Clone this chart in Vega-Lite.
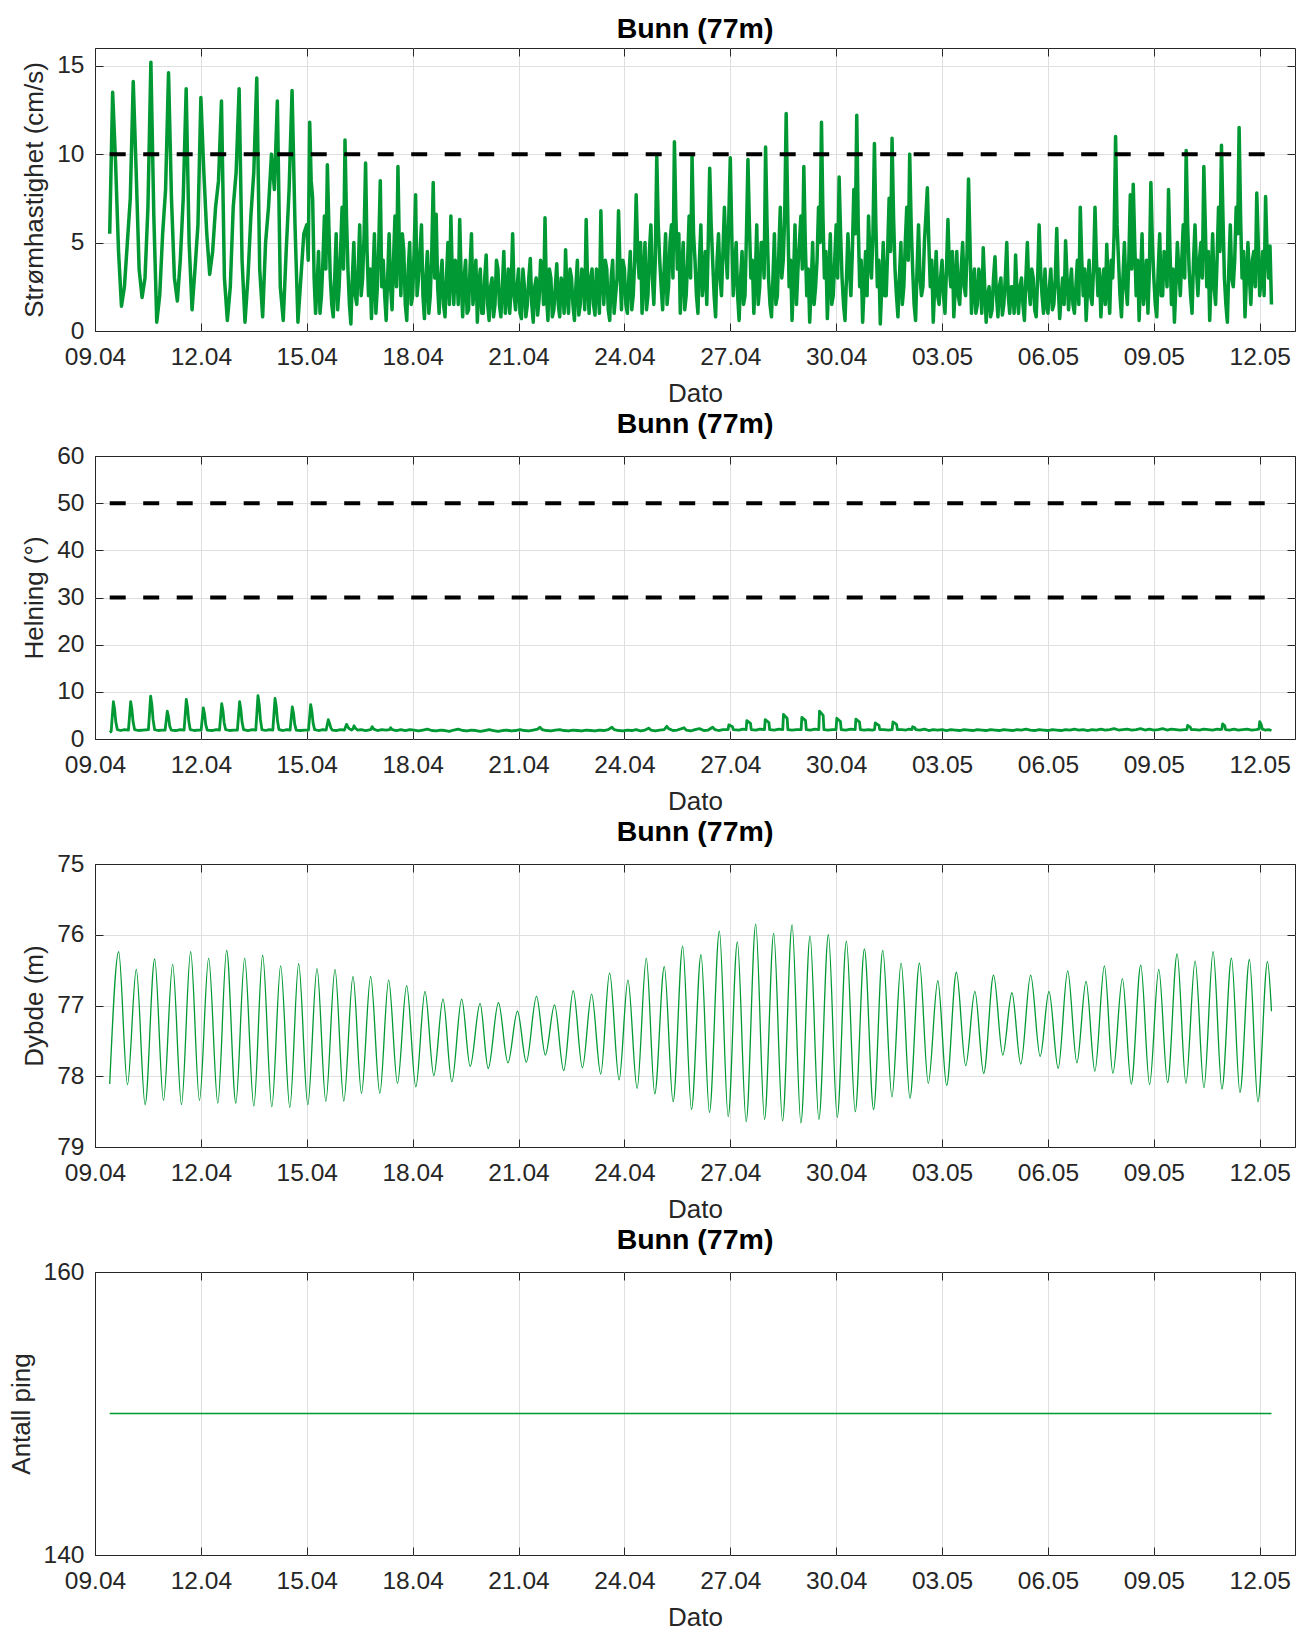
{
  "$schema": "https://vega.github.io/schema/vega-lite/v6.json",
  "background": "white",
  "padding": {"left": 7, "top": 14, "right": 0, "bottom": 0},
  "spacing": 1,
  "config": {
    "font": "Liberation Sans",
    "view": {"stroke": "#262626", "strokeWidth": 1},
    "axis": {
      "domain": false,
      "ticks": true,
      "tickSize": -8,
      "tickColor": "#262626",
      "tickWidth": 1,
      "labelFont": "Liberation Sans",
      "labelFontSize": 24.5,
      "labelColor": "#262626",
      "labelOverlap": false,
      "labelFlush": false,
      "titleFont": "Liberation Sans",
      "titleFontSize": 26,
      "titleFontWeight": "normal",
      "titleColor": "#262626",
      "gridColor": "#dfdfdf",
      "gridWidth": 1
    },
    "axisX": {"labelPadding": 22, "titlePadding": 12.4},
    "axisY": {"labelPadding": 19, "titlePadding": 9},
    "title": {"font": "Liberation Sans", "fontSize": 28.5, "fontWeight": "bold", "color": "#000000", "baseline": "alphabetic", "offset": 4.2, "anchor": "middle"}
  },
  "vconcat": [
    {
      "title": "Bunn (77m)",
      "width": 1200,
      "height": 283,
      "layer": [
        {
          "data": {
            "format": {"parse": {"t": "date:'%d.%m %H:%M'"}},
            "values": [
              {"t":"09.04 10:00","v":5.5},{"t":"09.04 12:00","v":13.5},{"t":"09.04 14:00","v":9.5},{"t":"09.04 16:00","v":4.5},{"t":"09.04 18:00","v":1.4},{"t":"09.04 20:00","v":2.5},{"t":"09.04 22:00","v":5.0},
              {"t":"10.04 00:00","v":7.5},{"t":"10.04 02:00","v":14.1},{"t":"10.04 04:00","v":9.0},{"t":"10.04 06:00","v":3.5},{"t":"10.04 08:00","v":1.9},{"t":"10.04 10:00","v":3.0},{"t":"10.04 12:00","v":7.0},{"t":"10.04 14:00","v":15.2},{"t":"10.04 16:00","v":6.5},{"t":"10.04 18:00","v":0.5},{"t":"10.04 20:00","v":2.0},{"t":"10.04 22:00","v":5.5},
              {"t":"11.04 00:00","v":8.0},{"t":"11.04 02:00","v":14.6},{"t":"11.04 04:00","v":7.5},{"t":"11.04 06:00","v":3.0},{"t":"11.04 08:00","v":1.7},{"t":"11.04 10:00","v":4.0},{"t":"11.04 12:00","v":7.5},{"t":"11.04 14:00","v":13.7},{"t":"11.04 16:00","v":5.0},{"t":"11.04 18:00","v":1.2},{"t":"11.04 20:00","v":3.5},{"t":"11.04 22:00","v":6.0},
              {"t":"12.04 00:00","v":13.2},{"t":"12.04 02:00","v":9.0},{"t":"12.04 04:00","v":5.5},{"t":"12.04 06:00","v":3.2},{"t":"12.04 08:00","v":4.5},{"t":"12.04 10:00","v":7.0},{"t":"12.04 12:00","v":8.5},{"t":"12.04 14:00","v":13.0},{"t":"12.04 16:00","v":3.0},{"t":"12.04 18:00","v":0.6},{"t":"12.04 20:00","v":2.5},{"t":"12.04 22:00","v":7.0},
              {"t":"13.04 00:00","v":9.0},{"t":"13.04 02:00","v":13.7},{"t":"13.04 04:00","v":4.0},{"t":"13.04 06:00","v":0.5},{"t":"13.04 08:00","v":3.0},{"t":"13.04 10:00","v":6.5},{"t":"13.04 12:00","v":9.0},{"t":"13.04 14:00","v":14.3},{"t":"13.04 16:00","v":3.5},{"t":"13.04 18:00","v":0.8},{"t":"13.04 20:00","v":5.0},{"t":"13.04 22:00","v":7.0},
              {"t":"14.04 00:00","v":10.0},{"t":"14.04 02:00","v":8.0},{"t":"14.04 04:00","v":13.0},{"t":"14.04 06:00","v":2.5},{"t":"14.04 08:00","v":0.6},{"t":"14.04 10:00","v":4.5},{"t":"14.04 12:00","v":8.0},{"t":"14.04 14:00","v":13.6},{"t":"14.04 16:00","v":6.0},{"t":"14.04 18:00","v":0.5},{"t":"14.04 20:00","v":3.0},{"t":"14.04 22:00","v":5.5},
              {"t":"15.04 00:00","v":6.0},{"t":"15.04 02:00","v":11.8},{"t":"15.04 04:00","v":7.5},{"t":"15.04 06:00","v":1.0},{"t":"15.04 08:00","v":4.5},{"t":"15.04 10:00","v":2.0},{"t":"15.04 12:00","v":6.5},{"t":"15.04 14:00","v":9.4},{"t":"15.04 16:00","v":3.0},{"t":"15.04 18:00","v":0.8},{"t":"15.04 20:00","v":5.5},{"t":"15.04 22:00","v":2.5},
              {"t":"16.04 00:00","v":7.0},{"t":"16.04 02:00","v":10.8},{"t":"16.04 04:00","v":3.5},{"t":"16.04 06:00","v":0.4},{"t":"16.04 08:00","v":5.0},{"t":"16.04 10:00","v":1.5},{"t":"16.04 12:00","v":6.0},{"t":"16.04 14:00","v":3.0},{"t":"16.04 16:00","v":9.5},{"t":"16.04 18:00","v":2.0},{"t":"16.04 20:00","v":0.7},{"t":"16.04 22:00","v":5.5},
              {"t":"17.04 00:00","v":2.5},{"t":"17.04 02:00","v":8.5},{"t":"17.04 04:00","v":4.0},{"t":"17.04 06:00","v":0.6},{"t":"17.04 08:00","v":5.5},{"t":"17.04 10:00","v":1.2},{"t":"17.04 12:00","v":6.5},{"t":"17.04 14:00","v":9.3},{"t":"17.04 16:00","v":2.0},{"t":"17.04 18:00","v":4.5},{"t":"17.04 20:00","v":0.6},{"t":"17.04 22:00","v":5.0},
              {"t":"18.04 00:00","v":2.0},{"t":"18.04 02:00","v":7.7},{"t":"18.04 04:00","v":3.0},{"t":"18.04 06:00","v":6.0},{"t":"18.04 08:00","v":0.7},{"t":"18.04 10:00","v":4.5},{"t":"18.04 12:00","v":2.0},{"t":"18.04 14:00","v":8.4},{"t":"18.04 16:00","v":6.6},{"t":"18.04 18:00","v":1.0},{"t":"18.04 20:00","v":4.0},{"t":"18.04 22:00","v":0.8},
              {"t":"19.04 00:00","v":5.0},{"t":"19.04 02:00","v":6.5},{"t":"19.04 04:00","v":1.5},{"t":"19.04 06:00","v":3.5},{"t":"19.04 08:00","v":6.3},{"t":"19.04 10:00","v":0.8},{"t":"19.04 12:00","v":4.0},{"t":"19.04 14:00","v":1.2},{"t":"19.04 16:00","v":5.5},{"t":"19.04 18:00","v":2.5},{"t":"19.04 20:00","v":0.5},{"t":"19.04 22:00","v":3.5},
              {"t":"20.04 00:00","v":1.0},{"t":"20.04 02:00","v":4.3},{"t":"20.04 04:00","v":0.6},{"t":"20.04 06:00","v":3.0},{"t":"20.04 08:00","v":1.5},{"t":"20.04 10:00","v":3.5},{"t":"20.04 12:00","v":0.8},{"t":"20.04 14:00","v":4.5},{"t":"20.04 16:00","v":2.0},{"t":"20.04 18:00","v":1.0},{"t":"20.04 20:00","v":5.5},{"t":"20.04 22:00","v":1.2},
              {"t":"21.04 00:00","v":3.5},{"t":"21.04 02:00","v":0.7},{"t":"21.04 04:00","v":2.5},{"t":"21.04 06:00","v":1.5},{"t":"21.04 08:00","v":4.1},{"t":"21.04 10:00","v":0.5},{"t":"21.04 12:00","v":3.0},{"t":"21.04 14:00","v":1.8},{"t":"21.04 16:00","v":3.5},{"t":"21.04 18:00","v":6.4},{"t":"21.04 20:00","v":0.6},{"t":"21.04 22:00","v":3.0},
              {"t":"22.04 00:00","v":1.2},{"t":"22.04 02:00","v":3.8},{"t":"22.04 04:00","v":0.8},{"t":"22.04 06:00","v":2.5},{"t":"22.04 08:00","v":4.6},{"t":"22.04 10:00","v":1.0},{"t":"22.04 12:00","v":3.0},{"t":"22.04 14:00","v":0.6},{"t":"22.04 16:00","v":4.0},{"t":"22.04 18:00","v":1.5},{"t":"22.04 20:00","v":3.0},{"t":"22.04 22:00","v":6.3},
              {"t":"23.04 00:00","v":1.0},{"t":"23.04 02:00","v":3.5},{"t":"23.04 04:00","v":0.9},{"t":"23.04 06:00","v":2.5},{"t":"23.04 08:00","v":6.8},{"t":"23.04 10:00","v":1.5},{"t":"23.04 12:00","v":3.5},{"t":"23.04 14:00","v":0.6},{"t":"23.04 16:00","v":4.0},{"t":"23.04 18:00","v":2.0},{"t":"23.04 20:00","v":6.8},{"t":"23.04 22:00","v":1.2},
              {"t":"24.04 00:00","v":3.5},{"t":"24.04 02:00","v":1.0},{"t":"24.04 04:00","v":4.5},{"t":"24.04 06:00","v":2.0},{"t":"24.04 08:00","v":7.7},{"t":"24.04 10:00","v":3.0},{"t":"24.04 12:00","v":1.0},{"t":"24.04 14:00","v":5.0},{"t":"24.04 16:00","v":2.0},{"t":"24.04 18:00","v":6.0},{"t":"24.04 20:00","v":1.5},{"t":"24.04 22:00","v":9.9},
              {"t":"25.04 00:00","v":4.0},{"t":"25.04 02:00","v":1.2},{"t":"25.04 04:00","v":5.5},{"t":"25.04 06:00","v":2.5},{"t":"25.04 08:00","v":6.0},{"t":"25.04 10:00","v":10.7},{"t":"25.04 12:00","v":3.5},{"t":"25.04 14:00","v":1.0},{"t":"25.04 16:00","v":5.0},{"t":"25.04 18:00","v":2.0},{"t":"25.04 20:00","v":6.5},{"t":"25.04 22:00","v":9.9},
              {"t":"26.04 00:00","v":4.0},{"t":"26.04 02:00","v":1.0},{"t":"26.04 04:00","v":6.0},{"t":"26.04 06:00","v":3.0},{"t":"26.04 08:00","v":1.5},{"t":"26.04 10:00","v":9.2},{"t":"26.04 12:00","v":4.0},{"t":"26.04 14:00","v":0.8},{"t":"26.04 16:00","v":5.5},{"t":"26.04 18:00","v":2.0},{"t":"26.04 20:00","v":7.0},{"t":"26.04 22:00","v":3.0},
              {"t":"27.04 00:00","v":9.8},{"t":"27.04 02:00","v":2.0},{"t":"27.04 04:00","v":5.0},{"t":"27.04 06:00","v":0.6},{"t":"27.04 08:00","v":4.5},{"t":"27.04 10:00","v":2.0},{"t":"27.04 12:00","v":9.7},{"t":"27.04 14:00","v":3.0},{"t":"27.04 16:00","v":1.0},{"t":"27.04 18:00","v":6.0},{"t":"27.04 20:00","v":2.5},{"t":"27.04 22:00","v":5.0},
              {"t":"28.04 00:00","v":10.4},{"t":"28.04 02:00","v":3.0},{"t":"28.04 04:00","v":0.8},{"t":"28.04 06:00","v":5.5},{"t":"28.04 08:00","v":2.0},{"t":"28.04 10:00","v":7.0},{"t":"28.04 12:00","v":4.0},{"t":"28.04 14:00","v":12.3},{"t":"28.04 16:00","v":2.5},{"t":"28.04 18:00","v":0.6},{"t":"28.04 20:00","v":6.0},{"t":"28.04 22:00","v":3.5},
              {"t":"29.04 00:00","v":6.5},{"t":"29.04 02:00","v":9.3},{"t":"29.04 04:00","v":2.0},{"t":"29.04 06:00","v":0.5},{"t":"29.04 08:00","v":5.0},{"t":"29.04 10:00","v":2.5},{"t":"29.04 12:00","v":7.0},{"t":"29.04 14:00","v":11.8},{"t":"29.04 16:00","v":3.0},{"t":"29.04 18:00","v":0.7},{"t":"29.04 20:00","v":5.5},{"t":"29.04 22:00","v":2.0},
              {"t":"30.04 00:00","v":6.0},{"t":"30.04 02:00","v":8.7},{"t":"30.04 04:00","v":3.0},{"t":"30.04 06:00","v":0.6},{"t":"30.04 08:00","v":5.5},{"t":"30.04 10:00","v":2.0},{"t":"30.04 12:00","v":8.0},{"t":"30.04 14:00","v":12.2},{"t":"30.04 16:00","v":2.5},{"t":"30.04 18:00","v":0.5},{"t":"30.04 20:00","v":4.5},{"t":"30.04 22:00","v":6.5},
              {"t":"01.05 00:00","v":3.0},{"t":"01.05 02:00","v":10.6},{"t":"01.05 04:00","v":2.5},{"t":"01.05 06:00","v":0.4},{"t":"01.05 08:00","v":5.0},{"t":"01.05 10:00","v":2.0},{"t":"01.05 12:00","v":7.5},{"t":"01.05 14:00","v":10.9},{"t":"01.05 16:00","v":3.5},{"t":"01.05 18:00","v":0.8},{"t":"01.05 20:00","v":5.0},{"t":"01.05 22:00","v":2.5},
              {"t":"02.05 00:00","v":7.0},{"t":"02.05 02:00","v":10.0},{"t":"02.05 04:00","v":3.5},{"t":"02.05 06:00","v":0.6},{"t":"02.05 08:00","v":6.0},{"t":"02.05 10:00","v":2.0},{"t":"02.05 12:00","v":5.0},{"t":"02.05 14:00","v":8.1},{"t":"02.05 16:00","v":2.5},{"t":"02.05 18:00","v":0.5},{"t":"02.05 20:00","v":4.5},{"t":"02.05 22:00","v":1.5},
              {"t":"03.05 00:00","v":4.0},{"t":"03.05 02:00","v":1.0},{"t":"03.05 04:00","v":6.3},{"t":"03.05 06:00","v":2.5},{"t":"03.05 08:00","v":0.8},{"t":"03.05 10:00","v":4.5},{"t":"03.05 12:00","v":1.5},{"t":"03.05 14:00","v":5.0},{"t":"03.05 16:00","v":2.0},{"t":"03.05 18:00","v":8.6},{"t":"03.05 20:00","v":1.0},{"t":"03.05 22:00","v":3.5},
              {"t":"04.05 00:00","v":1.5},{"t":"04.05 02:00","v":3.0},{"t":"04.05 04:00","v":4.7},{"t":"04.05 06:00","v":0.5},{"t":"04.05 08:00","v":2.5},{"t":"04.05 10:00","v":1.2},{"t":"04.05 12:00","v":4.2},{"t":"04.05 14:00","v":0.8},{"t":"04.05 16:00","v":3.0},{"t":"04.05 18:00","v":1.5},{"t":"04.05 20:00","v":5.0},{"t":"04.05 22:00","v":1.0},
              {"t":"05.05 00:00","v":2.5},{"t":"05.05 02:00","v":4.3},{"t":"05.05 04:00","v":1.0},{"t":"05.05 06:00","v":3.0},{"t":"05.05 08:00","v":0.6},{"t":"05.05 10:00","v":5.0},{"t":"05.05 12:00","v":1.5},{"t":"05.05 14:00","v":3.0},{"t":"05.05 16:00","v":0.8},{"t":"05.05 18:00","v":6.0},{"t":"05.05 20:00","v":2.0},{"t":"05.05 22:00","v":3.5},
              {"t":"06.05 00:00","v":1.0},{"t":"06.05 02:00","v":3.5},{"t":"06.05 04:00","v":1.5},{"t":"06.05 06:00","v":5.8},{"t":"06.05 08:00","v":0.7},{"t":"06.05 10:00","v":3.0},{"t":"06.05 12:00","v":5.1},{"t":"06.05 14:00","v":1.2},{"t":"06.05 16:00","v":3.5},{"t":"06.05 18:00","v":1.0},{"t":"06.05 20:00","v":4.0},{"t":"06.05 22:00","v":7.0},
              {"t":"07.05 00:00","v":2.0},{"t":"07.05 02:00","v":0.6},{"t":"07.05 04:00","v":4.0},{"t":"07.05 06:00","v":1.5},{"t":"07.05 08:00","v":7.0},{"t":"07.05 10:00","v":2.0},{"t":"07.05 12:00","v":0.8},{"t":"07.05 14:00","v":3.5},{"t":"07.05 16:00","v":4.9},{"t":"07.05 18:00","v":1.0},{"t":"07.05 20:00","v":3.0},{"t":"07.05 22:00","v":11.0},
              {"t":"08.05 00:00","v":4.0},{"t":"08.05 02:00","v":0.8},{"t":"08.05 04:00","v":5.0},{"t":"08.05 06:00","v":1.5},{"t":"08.05 08:00","v":7.7},{"t":"08.05 10:00","v":8.3},{"t":"08.05 12:00","v":2.0},{"t":"08.05 14:00","v":0.6},{"t":"08.05 16:00","v":5.5},{"t":"08.05 18:00","v":2.5},{"t":"08.05 20:00","v":1.0},{"t":"08.05 22:00","v":8.4},
              {"t":"09.05 00:00","v":3.0},{"t":"09.05 02:00","v":0.8},{"t":"09.05 04:00","v":5.5},{"t":"09.05 06:00","v":2.0},{"t":"09.05 08:00","v":4.0},{"t":"09.05 10:00","v":8.0},{"t":"09.05 12:00","v":1.5},{"t":"09.05 14:00","v":0.5},{"t":"09.05 16:00","v":5.0},{"t":"09.05 18:00","v":2.0},{"t":"09.05 20:00","v":6.0},{"t":"09.05 22:00","v":10.2},
              {"t":"10.05 00:00","v":3.5},{"t":"10.05 02:00","v":1.0},{"t":"10.05 04:00","v":6.0},{"t":"10.05 06:00","v":2.0},{"t":"10.05 08:00","v":5.0},{"t":"10.05 10:00","v":9.3},{"t":"10.05 12:00","v":2.5},{"t":"10.05 14:00","v":0.6},{"t":"10.05 16:00","v":5.5},{"t":"10.05 18:00","v":1.5},{"t":"10.05 20:00","v":7.0},{"t":"10.05 22:00","v":10.5},
              {"t":"11.05 00:00","v":3.0},{"t":"11.05 02:00","v":0.5},{"t":"11.05 04:00","v":6.0},{"t":"11.05 06:00","v":2.5},{"t":"11.05 08:00","v":7.0},{"t":"11.05 10:00","v":11.5},{"t":"11.05 12:00","v":3.0},{"t":"11.05 14:00","v":0.8},{"t":"11.05 16:00","v":5.0},{"t":"11.05 18:00","v":1.5},{"t":"11.05 20:00","v":4.5},{"t":"11.05 22:00","v":7.8},
              {"t":"12.05 00:00","v":2.0},{"t":"12.05 02:00","v":4.5},{"t":"12.05 04:00","v":7.6},{"t":"12.05 06:00","v":3.0},{"t":"12.05 08:00","v":1.5},
              {"t":"15.04 01:00","v":4.0},{"t":"15.04 03:00","v":8.5},{"t":"15.04 05:00","v":3.0},{"t":"15.04 07:00","v":2.5},{"t":"15.04 09:00","v":1.0},{"t":"15.04 11:00","v":4.0},{"t":"15.04 13:00","v":3.5},{"t":"15.04 15:00","v":6.0},{"t":"15.04 17:00","v":1.5},{"t":"15.04 19:00","v":3.0},{"t":"15.04 21:00","v":1.2},{"t":"15.04 23:00","v":4.5},
              {"t":"16.04 01:00","v":3.5},{"t":"16.04 03:00","v":6.5},{"t":"16.04 05:00","v":1.5},{"t":"16.04 07:00","v":3.0},{"t":"16.04 09:00","v":2.0},{"t":"16.04 11:00","v":3.5},{"t":"16.04 13:00","v":2.0},{"t":"16.04 15:00","v":5.5},{"t":"16.04 17:00","v":4.5},{"t":"16.04 19:00","v":3.5},{"t":"16.04 21:00","v":3.0},{"t":"16.04 23:00","v":1.0},
              {"t":"17.04 01:00","v":5.0},{"t":"17.04 03:00","v":2.5},{"t":"17.04 05:00","v":2.0},{"t":"17.04 07:00","v":3.0},{"t":"17.04 09:00","v":2.5},{"t":"17.04 11:00","v":4.0},{"t":"17.04 13:00","v":2.5},{"t":"17.04 15:00","v":4.5},{"t":"17.04 17:00","v":5.5},{"t":"17.04 19:00","v":1.5},{"t":"17.04 21:00","v":3.5},{"t":"17.04 23:00","v":1.5},
              {"t":"18.04 01:00","v":4.5},{"t":"18.04 03:00","v":2.0},{"t":"18.04 05:00","v":4.5},{"t":"18.04 07:00","v":2.0},{"t":"18.04 09:00","v":3.0},{"t":"18.04 11:00","v":1.0},{"t":"18.04 13:00","v":4.5},{"t":"18.04 15:00","v":3.0},{"t":"18.04 17:00","v":2.5},{"t":"18.04 19:00","v":3.0},{"t":"18.04 21:00","v":1.5},{"t":"18.04 23:00","v":3.0},
              {"t":"19.04 01:00","v":1.5},{"t":"19.04 03:00","v":3.0},{"t":"19.04 05:00","v":4.0},{"t":"19.04 07:00","v":1.5},{"t":"19.04 09:00","v":3.0},{"t":"19.04 11:00","v":3.0},{"t":"19.04 13:00","v":1.0},{"t":"19.04 15:00","v":3.5},{"t":"19.04 17:00","v":1.5},{"t":"19.04 19:00","v":4.0},{"t":"19.04 21:00","v":2.5},{"t":"19.04 23:00","v":1.0},
              {"t":"20.04 01:00","v":3.0},{"t":"20.04 03:00","v":1.5},{"t":"20.04 05:00","v":2.5},{"t":"20.04 07:00","v":0.8},{"t":"20.04 09:00","v":4.0},{"t":"20.04 11:00","v":1.5},{"t":"20.04 13:00","v":2.5},{"t":"20.04 15:00","v":1.0},{"t":"20.04 17:00","v":3.5},{"t":"20.04 19:00","v":2.5},{"t":"20.04 21:00","v":2.0},{"t":"20.04 23:00","v":2.5},
              {"t":"21.04 01:00","v":1.0},{"t":"21.04 03:00","v":3.5},{"t":"21.04 05:00","v":0.8},{"t":"21.04 07:00","v":3.0},{"t":"21.04 09:00","v":1.5},{"t":"21.04 11:00","v":2.5},{"t":"21.04 13:00","v":0.9},{"t":"21.04 15:00","v":4.0},{"t":"21.04 17:00","v":1.5},{"t":"21.04 19:00","v":2.0},{"t":"21.04 21:00","v":3.5},{"t":"21.04 23:00","v":0.8},
              {"t":"22.04 01:00","v":2.5},{"t":"22.04 03:00","v":1.5},{"t":"22.04 05:00","v":3.0},{"t":"22.04 07:00","v":1.0},{"t":"22.04 09:00","v":2.0},{"t":"22.04 11:00","v":3.5},{"t":"22.04 13:00","v":1.5},{"t":"22.04 15:00","v":2.5},{"t":"22.04 17:00","v":0.9},{"t":"22.04 19:00","v":3.5},{"t":"22.04 21:00","v":1.2},{"t":"22.04 23:00","v":2.5},
              {"t":"23.04 01:00","v":3.0},{"t":"23.04 03:00","v":1.5},{"t":"23.04 05:00","v":3.5},{"t":"23.04 07:00","v":1.0},{"t":"23.04 09:00","v":3.0},{"t":"23.04 11:00","v":4.0},{"t":"23.04 13:00","v":1.2},{"t":"23.04 15:00","v":3.0},{"t":"23.04 17:00","v":1.0},{"t":"23.04 19:00","v":3.0},{"t":"23.04 21:00","v":3.5},{"t":"23.04 23:00","v":4.0},
              {"t":"24.04 01:00","v":1.5},{"t":"24.04 03:00","v":3.0},{"t":"24.04 05:00","v":1.2},{"t":"24.04 07:00","v":4.0},{"t":"24.04 09:00","v":4.5},{"t":"24.04 11:00","v":5.0},{"t":"24.04 13:00","v":3.0},{"t":"24.04 15:00","v":1.2},{"t":"24.04 17:00","v":4.5},{"t":"24.04 19:00","v":3.0},{"t":"24.04 21:00","v":4.0},{"t":"24.04 23:00","v":6.0},
              {"t":"25.04 01:00","v":2.5},{"t":"25.04 03:00","v":3.5},{"t":"25.04 05:00","v":1.5},{"t":"25.04 07:00","v":5.0},{"t":"25.04 09:00","v":3.0},{"t":"25.04 11:00","v":6.5},{"t":"25.04 13:00","v":5.5},{"t":"25.04 15:00","v":3.5},{"t":"25.04 17:00","v":1.2},{"t":"25.04 19:00","v":4.0},{"t":"25.04 21:00","v":3.0},{"t":"25.04 23:00","v":5.5},
              {"t":"26.04 01:00","v":2.0},{"t":"26.04 03:00","v":4.0},{"t":"26.04 05:00","v":2.0},{"t":"26.04 07:00","v":4.5},{"t":"26.04 09:00","v":5.0},{"t":"26.04 11:00","v":6.0},{"t":"26.04 13:00","v":2.0},{"t":"26.04 15:00","v":4.0},{"t":"26.04 17:00","v":3.0},{"t":"26.04 19:00","v":4.5},{"t":"26.04 21:00","v":4.5},{"t":"26.04 23:00","v":6.5},
              {"t":"27.04 01:00","v":5.5},{"t":"27.04 03:00","v":3.5},{"t":"27.04 05:00","v":2.0},{"t":"27.04 07:00","v":3.0},{"t":"27.04 09:00","v":1.5},{"t":"27.04 11:00","v":5.5},{"t":"27.04 13:00","v":6.0},{"t":"27.04 15:00","v":4.0},{"t":"27.04 17:00","v":3.0},{"t":"27.04 19:00","v":1.5},{"t":"27.04 21:00","v":5.0},{"t":"27.04 23:00","v":3.0},
              {"t":"28.04 01:00","v":6.0},{"t":"28.04 03:00","v":1.5},{"t":"28.04 05:00","v":3.0},{"t":"28.04 07:00","v":1.5},{"t":"28.04 09:00","v":4.5},{"t":"28.04 11:00","v":3.0},{"t":"28.04 13:00","v":6.5},{"t":"28.04 15:00","v":7.0},{"t":"28.04 17:00","v":4.0},{"t":"28.04 19:00","v":3.0},{"t":"28.04 21:00","v":1.5},{"t":"28.04 23:00","v":5.0},
              {"t":"29.04 01:00","v":3.5},{"t":"29.04 03:00","v":5.0},{"t":"29.04 05:00","v":3.5},{"t":"29.04 07:00","v":2.5},{"t":"29.04 09:00","v":1.5},{"t":"29.04 11:00","v":4.0},{"t":"29.04 13:00","v":5.0},{"t":"29.04 15:00","v":6.5},{"t":"29.04 17:00","v":4.5},{"t":"29.04 19:00","v":3.0},{"t":"29.04 21:00","v":1.5},{"t":"29.04 23:00","v":4.0},
              {"t":"30.04 01:00","v":3.0},{"t":"30.04 03:00","v":5.5},{"t":"30.04 05:00","v":1.5},{"t":"30.04 07:00","v":3.0},{"t":"30.04 09:00","v":3.5},{"t":"30.04 11:00","v":4.5},{"t":"30.04 13:00","v":5.5},{"t":"30.04 15:00","v":6.0},{"t":"30.04 17:00","v":4.0},{"t":"30.04 19:00","v":2.5},{"t":"30.04 21:00","v":2.0},{"t":"30.04 23:00","v":4.0},
              {"t":"01.05 01:00","v":5.5},{"t":"01.05 03:00","v":6.0},{"t":"01.05 05:00","v":4.0},{"t":"01.05 07:00","v":2.5},{"t":"01.05 09:00","v":2.0},{"t":"01.05 11:00","v":4.5},{"t":"01.05 13:00","v":4.5},{"t":"01.05 15:00","v":6.5},{"t":"01.05 17:00","v":2.0},{"t":"01.05 19:00","v":3.0},{"t":"01.05 21:00","v":1.5},{"t":"01.05 23:00","v":5.0},
              {"t":"02.05 01:00","v":4.0},{"t":"02.05 03:00","v":6.0},{"t":"02.05 05:00","v":1.5},{"t":"02.05 07:00","v":3.5},{"t":"02.05 09:00","v":3.0},{"t":"02.05 11:00","v":2.5},{"t":"02.05 13:00","v":6.5},{"t":"02.05 15:00","v":5.0},{"t":"02.05 17:00","v":4.0},{"t":"02.05 19:00","v":2.5},{"t":"02.05 21:00","v":2.0},{"t":"02.05 23:00","v":3.0},
              {"t":"03.05 01:00","v":2.0},{"t":"03.05 03:00","v":3.5},{"t":"03.05 05:00","v":3.5},{"t":"03.05 07:00","v":4.5},{"t":"03.05 09:00","v":2.5},{"t":"03.05 11:00","v":2.0},{"t":"03.05 13:00","v":3.5},{"t":"03.05 15:00","v":2.5},{"t":"03.05 17:00","v":4.5},{"t":"03.05 19:00","v":5.0},{"t":"03.05 21:00","v":2.5},{"t":"03.05 23:00","v":1.0},
              {"t":"04.05 01:00","v":3.5},{"t":"04.05 03:00","v":1.0},{"t":"04.05 05:00","v":2.5},{"t":"04.05 07:00","v":2.0},{"t":"04.05 09:00","v":0.8},{"t":"04.05 11:00","v":3.0},{"t":"04.05 13:00","v":2.0},{"t":"04.05 15:00","v":2.5},{"t":"04.05 17:00","v":0.9},{"t":"04.05 19:00","v":3.0},{"t":"04.05 21:00","v":2.0},{"t":"04.05 23:00","v":2.5},
              {"t":"05.05 01:00","v":1.0},{"t":"05.05 03:00","v":2.0},{"t":"05.05 05:00","v":2.5},{"t":"05.05 07:00","v":1.5},{"t":"05.05 09:00","v":3.0},{"t":"05.05 11:00","v":2.5},{"t":"05.05 13:00","v":3.5},{"t":"05.05 15:00","v":1.2},{"t":"05.05 17:00","v":3.0},{"t":"05.05 19:00","v":3.5},{"t":"05.05 21:00","v":1.0},{"t":"05.05 23:00","v":1.5},
              {"t":"06.05 01:00","v":2.5},{"t":"06.05 03:00","v":1.2},{"t":"06.05 05:00","v":3.0},{"t":"06.05 07:00","v":2.5},{"t":"06.05 09:00","v":2.0},{"t":"06.05 11:00","v":1.5},{"t":"06.05 13:00","v":3.0},{"t":"06.05 15:00","v":2.5},{"t":"06.05 17:00","v":1.5},{"t":"06.05 19:00","v":2.5},{"t":"06.05 21:00","v":1.5},{"t":"06.05 23:00","v":4.0},
              {"t":"07.05 01:00","v":3.5},{"t":"07.05 03:00","v":2.5},{"t":"07.05 05:00","v":2.0},{"t":"07.05 07:00","v":3.5},{"t":"07.05 09:00","v":4.0},{"t":"07.05 11:00","v":3.5},{"t":"07.05 13:00","v":2.5},{"t":"07.05 15:00","v":1.5},{"t":"07.05 17:00","v":2.5},{"t":"07.05 19:00","v":4.0},{"t":"07.05 21:00","v":5.5},{"t":"07.05 23:00","v":6.0},
              {"t":"08.05 01:00","v":2.0},{"t":"08.05 03:00","v":3.0},{"t":"08.05 05:00","v":2.5},{"t":"08.05 07:00","v":4.0},{"t":"08.05 09:00","v":3.5},{"t":"08.05 11:00","v":5.0},{"t":"08.05 13:00","v":4.0},{"t":"08.05 15:00","v":3.0},{"t":"08.05 17:00","v":1.5},{"t":"08.05 19:00","v":4.0},{"t":"08.05 21:00","v":3.5},{"t":"08.05 23:00","v":5.0},
              {"t":"09.05 01:00","v":1.5},{"t":"09.05 03:00","v":3.5},{"t":"09.05 05:00","v":2.0},{"t":"09.05 07:00","v":4.5},{"t":"09.05 09:00","v":2.5},{"t":"09.05 11:00","v":4.5},{"t":"09.05 13:00","v":3.5},{"t":"09.05 15:00","v":2.5},{"t":"09.05 17:00","v":3.5},{"t":"09.05 19:00","v":4.0},{"t":"09.05 21:00","v":3.0},{"t":"09.05 23:00","v":6.0},
              {"t":"10.05 01:00","v":2.0},{"t":"10.05 03:00","v":4.0},{"t":"10.05 05:00","v":3.5},{"t":"10.05 07:00","v":4.0},{"t":"10.05 09:00","v":3.0},{"t":"10.05 11:00","v":6.0},{"t":"10.05 13:00","v":4.5},{"t":"10.05 15:00","v":3.0},{"t":"10.05 17:00","v":2.5},{"t":"10.05 19:00","v":4.0},{"t":"10.05 21:00","v":4.5},{"t":"10.05 23:00","v":6.5},
              {"t":"11.05 01:00","v":1.5},{"t":"11.05 03:00","v":3.5},{"t":"11.05 05:00","v":3.0},{"t":"11.05 07:00","v":4.0},{"t":"11.05 09:00","v":5.5},{"t":"11.05 11:00","v":6.5},{"t":"11.05 13:00","v":4.5},{"t":"11.05 15:00","v":3.0},{"t":"11.05 17:00","v":3.0},{"t":"11.05 19:00","v":4.0},{"t":"11.05 21:00","v":2.5},{"t":"11.05 23:00","v":5.0},
              {"t":"12.05 01:00","v":3.0},{"t":"12.05 03:00","v":2.0},{"t":"12.05 05:00","v":4.5},{"t":"12.05 07:00","v":4.8}
            ]
          },
          "mark": {"type": "line", "color": "#009933", "strokeWidth": 3.5, "strokeJoin": "round"},
          "encoding": {
            "x": {
              "field": "t", "type": "temporal", "title": "Dato",
              "scale": {"domain": [{"year": 1900, "month": 4, "date": 9}, {"year": 1900, "month": 5, "date": 13}], "nice": false},
              "axis": {
                "format": "%d.%m",
                "values": [{"year":1900,"month":4,"date":9},{"year":1900,"month":4,"date":12},{"year":1900,"month":4,"date":15},{"year":1900,"month":4,"date":18},{"year":1900,"month":4,"date":21},{"year":1900,"month":4,"date":24},{"year":1900,"month":4,"date":27},{"year":1900,"month":4,"date":30},{"year":1900,"month":5,"date":3},{"year":1900,"month":5,"date":6},{"year":1900,"month":5,"date":9},{"year":1900,"month":5,"date":12}],
                "gridOpacity": {"condition": {"test": "datum.value < datetime(1900, 3, 9, 12)", "value": 0}, "value": 1}
              }
            },
            "y": {
              "field": "v", "type": "quantitative", "title": "Strømhastighet (cm/s)",
              "scale": {"domain": [0, 16], "nice": false},
              "axis": {"values": [0, 5, 10, 15], "gridOpacity": {"condition": {"test": "datum.value == 0", "value": 0}, "value": 1}}
            }
          }
        },
        {
          "data": {
            "format": {"parse": {"t0": "date:'%d.%m %H:%M'", "t1": "date:'%d.%m %H:%M'"}},
            "values": [{"t0": "09.04 10:00", "t1": "12.05 08:00", "grense": 10}]
          },
          "mark": {"type": "rule", "color": "#000000", "strokeWidth": 4, "strokeDash": [16, 17.5]},
          "encoding": {
            "x": {
              "field": "t0", "type": "temporal",
              "scale": {"domain": [{"year": 1900, "month": 4, "date": 9}, {"year": 1900, "month": 5, "date": 13}], "nice": false},
              "axis": {"orient": "top", "labels": false, "grid": false, "title": null,
                "values": [{"year":1900,"month":4,"date":9},{"year":1900,"month":4,"date":12},{"year":1900,"month":4,"date":15},{"year":1900,"month":4,"date":18},{"year":1900,"month":4,"date":21},{"year":1900,"month":4,"date":24},{"year":1900,"month":4,"date":27},{"year":1900,"month":4,"date":30},{"year":1900,"month":5,"date":3},{"year":1900,"month":5,"date":6},{"year":1900,"month":5,"date":9},{"year":1900,"month":5,"date":12}]}
            },
            "x2": {"field": "t1"},
            "y": {"field": "grense", "type": "quantitative", "axis": {"orient": "right", "labels": false, "grid": false, "title": null, "values": [0, 5, 10, 15]}}
          }
        }
      ],
      "resolve": {"axis": {"x": "independent", "y": "independent"}}
    },
    {
      "title": "Bunn (77m)",
      "width": 1200,
      "height": 283,
      "layer": [
        {
          "data": {
            "format": {"parse": {"t": "date:'%d.%m %H:%M'"}},
            "values": [
              {"t":"09.04 10:00","v":1.4},{"t":"09.04 11:00","v":1.6},{"t":"09.04 12:30","v":7.9},{"t":"09.04 13:20","v":6.3},{"t":"09.04 14:10","v":3.6},{"t":"09.04 15:10","v":2.0},{"t":"09.04 17:30","v":1.8},{"t":"09.04 20:00","v":2.0},{"t":"09.04 22:45","v":1.9},
              {"t":"10.04 00:15","v":7.9},{"t":"10.04 01:05","v":6.3},{"t":"10.04 01:55","v":3.6},{"t":"10.04 02:55","v":2.0},{"t":"10.04 05:30","v":1.8},{"t":"10.04 08:30","v":1.9},{"t":"10.04 12:20","v":2.0},{"t":"10.04 13:50","v":9.1},{"t":"10.04 14:40","v":7.3},{"t":"10.04 15:30","v":4.1},{"t":"10.04 16:30","v":2.0},{"t":"10.04 19:00","v":1.8},{"t":"10.04 21:30","v":1.9},{"t":"10.04 23:40","v":1.9},
              {"t":"11.04 01:10","v":5.9},{"t":"11.04 02:00","v":4.7},{"t":"11.04 02:50","v":2.7},{"t":"11.04 03:50","v":1.9},{"t":"11.04 07:00","v":1.8},{"t":"11.04 10:00","v":2.0},{"t":"11.04 12:35","v":1.9},{"t":"11.04 14:05","v":8.4},{"t":"11.04 14:55","v":6.7},{"t":"11.04 15:45","v":3.8},{"t":"11.04 16:45","v":2.0},{"t":"11.04 19:30","v":1.8},{"t":"11.04 22:00","v":1.9},
              {"t":"12.04 00:10","v":1.9},{"t":"12.04 01:40","v":6.6},{"t":"12.04 02:30","v":5.3},{"t":"12.04 03:20","v":3.0},{"t":"12.04 04:20","v":1.9},{"t":"12.04 07:30","v":1.8},{"t":"12.04 10:30","v":2.0},{"t":"12.04 12:40","v":1.9},{"t":"12.04 14:10","v":7.5},{"t":"12.04 15:00","v":6.0},{"t":"12.04 15:50","v":3.4},{"t":"12.04 16:50","v":2.0},{"t":"12.04 19:30","v":1.8},{"t":"12.04 22:30","v":1.9},
              {"t":"13.04 00:50","v":1.9},{"t":"13.04 02:20","v":7.9},{"t":"13.04 03:10","v":6.3},{"t":"13.04 04:00","v":3.6},{"t":"13.04 05:00","v":2.0},{"t":"13.04 08:00","v":1.8},{"t":"13.04 11:00","v":2.0},{"t":"13.04 13:20","v":1.9},{"t":"13.04 14:50","v":9.2},{"t":"13.04 15:40","v":7.4},{"t":"13.04 16:30","v":4.1},{"t":"13.04 17:30","v":2.0},{"t":"13.04 20:00","v":1.8},{"t":"13.04 22:30","v":2.0},
              {"t":"14.04 00:55","v":1.9},{"t":"14.04 02:25","v":8.6},{"t":"14.04 03:15","v":6.9},{"t":"14.04 04:05","v":3.9},{"t":"14.04 05:05","v":2.0},{"t":"14.04 08:00","v":1.8},{"t":"14.04 10:30","v":2.0},{"t":"14.04 12:40","v":1.9},{"t":"14.04 14:10","v":6.8},{"t":"14.04 15:00","v":5.4},{"t":"14.04 15:50","v":3.1},{"t":"14.04 16:50","v":1.9},{"t":"14.04 19:30","v":1.8},{"t":"14.04 22:30","v":1.9},
              {"t":"15.04 01:10","v":1.9},{"t":"15.04 02:40","v":7.3},{"t":"15.04 03:30","v":5.8},{"t":"15.04 04:20","v":3.3},{"t":"15.04 05:20","v":2.0},{"t":"15.04 08:00","v":1.8},{"t":"15.04 11:00","v":2.0},{"t":"15.04 13:10","v":1.9},{"t":"15.04 14:40","v":4.1},{"t":"15.04 15:30","v":3.3},{"t":"15.04 16:20","v":2.4},{"t":"15.04 17:20","v":1.9},{"t":"15.04 20:00","v":1.8},{"t":"15.04 23:00","v":2.0},
              {"t":"16.04 01:35","v":1.9},{"t":"16.04 03:05","v":3.1},{"t":"16.04 03:55","v":2.6},{"t":"16.04 04:45","v":2.2},{"t":"16.04 06:30","v":1.9},{"t":"16.04 07:30","v":2.2},{"t":"16.04 08:10","v":2.8},{"t":"16.04 09:00","v":2.3},{"t":"16.04 10:30","v":1.9},{"t":"16.04 13:00","v":2.0},{"t":"16.04 16:00","v":1.8},{"t":"16.04 19:30","v":2.0},{"t":"16.04 20:30","v":2.6},{"t":"16.04 21:30","v":2.1},
              {"t":"17.04 00:00","v":1.8},{"t":"17.04 03:00","v":2.0},{"t":"17.04 06:00","v":1.9},{"t":"17.04 08:30","v":2.0},{"t":"17.04 09:00","v":2.4},{"t":"17.04 10:00","v":2.0},{"t":"17.04 13:00","v":1.8},{"t":"17.04 16:00","v":2.0},{"t":"17.04 19:00","v":1.8},{"t":"17.04 22:00","v":2.0},
              {"t":"18.04 01:00","v":1.9},{"t":"18.04 04:00","v":1.7},{"t":"18.04 07:00","v":1.9},{"t":"18.04 10:00","v":2.1},{"t":"18.04 13:00","v":1.8},{"t":"18.04 16:00","v":1.7},{"t":"18.04 19:00","v":1.9},{"t":"18.04 22:00","v":1.8},
              {"t":"19.04 01:00","v":1.6},{"t":"19.04 04:00","v":1.9},{"t":"19.04 07:00","v":2.1},{"t":"19.04 10:00","v":1.8},{"t":"19.04 13:00","v":1.7},{"t":"19.04 16:00","v":1.9},{"t":"19.04 19:00","v":1.8},{"t":"19.04 22:00","v":1.6},
              {"t":"20.04 01:00","v":1.8},{"t":"20.04 04:00","v":2.0},{"t":"20.04 07:00","v":1.8},{"t":"20.04 10:00","v":1.6},{"t":"20.04 13:00","v":1.8},{"t":"20.04 16:00","v":1.9},{"t":"20.04 19:00","v":1.7},{"t":"20.04 22:00","v":1.8},
              {"t":"21.04 01:00","v":2.0},{"t":"21.04 04:00","v":1.8},{"t":"21.04 07:00","v":1.7},{"t":"21.04 10:00","v":1.9},{"t":"21.04 13:00","v":2.1},{"t":"21.04 14:30","v":2.5},{"t":"21.04 16:00","v":2.0},{"t":"21.04 19:00","v":1.8},{"t":"21.04 22:00","v":1.7},
              {"t":"22.04 01:00","v":1.9},{"t":"22.04 04:00","v":2.0},{"t":"22.04 07:00","v":1.8},{"t":"22.04 10:00","v":1.7},{"t":"22.04 13:00","v":1.9},{"t":"22.04 16:00","v":1.8},{"t":"22.04 19:00","v":1.7},{"t":"22.04 22:00","v":1.9},
              {"t":"23.04 01:00","v":1.8},{"t":"23.04 04:00","v":1.7},{"t":"23.04 07:00","v":1.9},{"t":"23.04 10:00","v":1.8},{"t":"23.04 13:00","v":2.0},{"t":"23.04 15:30","v":2.5},{"t":"23.04 17:00","v":2.0},{"t":"23.04 20:00","v":1.8},{"t":"23.04 23:00","v":1.7},
              {"t":"24.04 02:00","v":1.9},{"t":"24.04 05:00","v":1.8},{"t":"24.04 08:00","v":2.0},{"t":"24.04 11:00","v":1.7},{"t":"24.04 14:00","v":1.9},{"t":"24.04 16:30","v":2.3},{"t":"24.04 18:00","v":1.9},{"t":"24.04 21:00","v":1.7},
              {"t":"25.04 00:00","v":1.9},{"t":"25.04 03:00","v":2.0},{"t":"25.04 04:50","v":2.7},{"t":"25.04 06:00","v":2.2},{"t":"25.04 09:00","v":1.8},{"t":"25.04 12:00","v":1.9},{"t":"25.04 15:00","v":2.2},{"t":"25.04 16:30","v":2.4},{"t":"25.04 18:00","v":1.9},{"t":"25.04 21:00","v":1.7},
              {"t":"26.04 00:00","v":2.0},{"t":"26.04 03:00","v":2.2},{"t":"26.04 06:00","v":1.8},{"t":"26.04 09:00","v":1.9},{"t":"26.04 12:00","v":2.5},{"t":"26.04 13:30","v":2.0},{"t":"26.04 16:00","v":1.8},{"t":"26.04 19:00","v":2.0},{"t":"26.04 22:30","v":2.0},{"t":"26.04 23:00","v":3.0},
              {"t":"27.04 01:30","v":2.6},{"t":"27.04 02:00","v":2.0},{"t":"27.04 06:00","v":1.9},{"t":"27.04 08:30","v":2.1},{"t":"27.04 10:45","v":2.0},{"t":"27.04 11:15","v":3.9},{"t":"27.04 13:45","v":3.3},{"t":"27.04 14:15","v":2.0},{"t":"27.04 17:30","v":1.9},{"t":"27.04 20:00","v":2.1},{"t":"27.04 23:15","v":2.0},{"t":"27.04 23:45","v":4.1},
              {"t":"28.04 02:15","v":3.5},{"t":"28.04 02:45","v":2.0},{"t":"28.04 06:00","v":1.9},{"t":"28.04 09:00","v":2.1},{"t":"28.04 11:40","v":2.0},{"t":"28.04 12:10","v":5.2},{"t":"28.04 14:40","v":4.4},{"t":"28.04 15:10","v":2.0},{"t":"28.04 18:00","v":1.9},{"t":"28.04 21:00","v":2.0},
              {"t":"29.04 00:10","v":2.0},{"t":"29.04 00:40","v":4.6},{"t":"29.04 03:10","v":3.9},{"t":"29.04 03:40","v":2.0},{"t":"29.04 06:30","v":1.9},{"t":"29.04 09:30","v":2.1},{"t":"29.04 12:10","v":2.0},{"t":"29.04 12:40","v":5.9},{"t":"29.04 15:10","v":5.0},{"t":"29.04 15:40","v":2.0},{"t":"29.04 18:30","v":1.9},{"t":"29.04 21:30","v":2.0},{"t":"29.04 23:55","v":2.0},
              {"t":"30.04 00:25","v":4.4},{"t":"30.04 02:55","v":3.7},{"t":"30.04 03:25","v":2.0},{"t":"30.04 06:30","v":1.9},{"t":"30.04 10:00","v":2.1},{"t":"30.04 12:55","v":2.0},{"t":"30.04 13:25","v":4.2},{"t":"30.04 15:55","v":3.6},{"t":"30.04 16:25","v":2.0},{"t":"30.04 19:00","v":1.9},{"t":"30.04 22:00","v":2.0},
              {"t":"01.05 00:30","v":1.9},{"t":"01.05 02:05","v":2.0},{"t":"01.05 02:35","v":3.4},{"t":"01.05 05:05","v":2.9},{"t":"01.05 05:35","v":2.0},{"t":"01.05 08:30","v":2.0},{"t":"01.05 11:30","v":1.9},{"t":"01.05 14:05","v":2.0},{"t":"01.05 14:35","v":3.6},{"t":"01.05 17:05","v":3.1},{"t":"01.05 17:35","v":2.0},{"t":"01.05 20:30","v":2.0},{"t":"01.05 23:30","v":1.9},
              {"t":"02.05 01:30","v":2.1},{"t":"02.05 03:30","v":2.0},{"t":"02.05 04:00","v":2.6},{"t":"02.05 05:30","v":2.4},{"t":"02.05 06:00","v":2.0},{"t":"02.05 09:00","v":1.9},{"t":"02.05 12:00","v":2.1},{"t":"02.05 15:00","v":1.8},{"t":"02.05 18:00","v":2.0},{"t":"02.05 21:00","v":1.9},
              {"t":"03.05 00:00","v":2.0},{"t":"03.05 03:00","v":1.8},{"t":"03.05 06:00","v":2.0},{"t":"03.05 09:00","v":1.9},{"t":"03.05 12:00","v":1.8},{"t":"03.05 15:00","v":2.0},{"t":"03.05 18:00","v":1.9},{"t":"03.05 21:00","v":1.8},
              {"t":"04.05 00:00","v":2.0},{"t":"04.05 03:00","v":1.9},{"t":"04.05 06:00","v":1.8},{"t":"04.05 09:00","v":2.0},{"t":"04.05 12:00","v":1.9},{"t":"04.05 15:00","v":1.8},{"t":"04.05 18:00","v":2.0},{"t":"04.05 21:00","v":1.9},
              {"t":"05.05 00:00","v":1.8},{"t":"05.05 03:00","v":2.0},{"t":"05.05 06:00","v":1.9},{"t":"05.05 09:00","v":2.1},{"t":"05.05 12:00","v":1.9},{"t":"05.05 15:00","v":1.8},{"t":"05.05 18:00","v":2.0},{"t":"05.05 21:00","v":1.9},
              {"t":"06.05 00:00","v":1.8},{"t":"06.05 03:00","v":2.0},{"t":"06.05 06:00","v":1.9},{"t":"06.05 09:00","v":1.8},{"t":"06.05 12:00","v":2.0},{"t":"06.05 15:00","v":1.9},{"t":"06.05 18:00","v":2.1},{"t":"06.05 21:00","v":1.9},
              {"t":"07.05 00:00","v":2.0},{"t":"07.05 03:00","v":1.8},{"t":"07.05 06:00","v":2.0},{"t":"07.05 09:00","v":1.9},{"t":"07.05 12:00","v":2.1},{"t":"07.05 15:00","v":1.9},{"t":"07.05 18:00","v":2.0},{"t":"07.05 21:00","v":2.2},
              {"t":"08.05 00:00","v":1.9},{"t":"08.05 03:00","v":2.0},{"t":"08.05 06:00","v":2.1},{"t":"08.05 09:00","v":1.9},{"t":"08.05 12:00","v":2.0},{"t":"08.05 15:00","v":2.2},{"t":"08.05 18:00","v":1.9},{"t":"08.05 21:00","v":2.1},
              {"t":"09.05 00:00","v":1.9},{"t":"09.05 03:00","v":2.0},{"t":"09.05 06:00","v":2.2},{"t":"09.05 09:00","v":1.9},{"t":"09.05 12:00","v":2.1},{"t":"09.05 15:00","v":2.0},{"t":"09.05 18:00","v":1.9},{"t":"09.05 21:00","v":2.0},{"t":"09.05 22:30","v":2.0},{"t":"09.05 23:00","v":2.9},
              {"t":"10.05 00:45","v":2.5},{"t":"10.05 01:30","v":2.0},{"t":"10.05 04:00","v":2.0},{"t":"10.05 07:00","v":1.9},{"t":"10.05 10:00","v":2.1},{"t":"10.05 13:00","v":2.0},{"t":"10.05 16:00","v":1.9},{"t":"10.05 19:00","v":2.1},{"t":"10.05 21:30","v":2.0},{"t":"10.05 22:15","v":2.1},{"t":"10.05 22:45","v":3.2},
              {"t":"11.05 00:15","v":2.8},{"t":"11.05 00:45","v":2.0},{"t":"11.05 03:30","v":1.9},{"t":"11.05 06:30","v":2.1},{"t":"11.05 09:30","v":1.9},{"t":"11.05 12:30","v":2.0},{"t":"11.05 15:30","v":2.1},{"t":"11.05 18:30","v":1.9},{"t":"11.05 21:30","v":2.0},{"t":"11.05 23:30","v":2.1},
              {"t":"12.05 00:00","v":3.7},{"t":"12.05 01:00","v":3.1},{"t":"12.05 01:45","v":2.1},{"t":"12.05 04:00","v":1.9},{"t":"12.05 06:00","v":2.0},{"t":"12.05 08:00","v":1.8}
            ]
          },
          "mark": {"type": "line", "color": "#009933", "strokeWidth": 2.8, "strokeJoin": "round"},
          "encoding": {
            "x": {
              "field": "t", "type": "temporal", "title": "Dato",
              "scale": {"domain": [{"year": 1900, "month": 4, "date": 9}, {"year": 1900, "month": 5, "date": 13}], "nice": false},
              "axis": {
                "format": "%d.%m",
                "values": [{"year":1900,"month":4,"date":9},{"year":1900,"month":4,"date":12},{"year":1900,"month":4,"date":15},{"year":1900,"month":4,"date":18},{"year":1900,"month":4,"date":21},{"year":1900,"month":4,"date":24},{"year":1900,"month":4,"date":27},{"year":1900,"month":4,"date":30},{"year":1900,"month":5,"date":3},{"year":1900,"month":5,"date":6},{"year":1900,"month":5,"date":9},{"year":1900,"month":5,"date":12}],
                "gridOpacity": {"condition": {"test": "datum.value < datetime(1900, 3, 9, 12)", "value": 0}, "value": 1}
              }
            },
            "y": {
              "field": "v", "type": "quantitative", "title": "Helning (°)",
              "scale": {"domain": [0, 60], "nice": false},
              "axis": {"values": [0, 10, 20, 30, 40, 50, 60], "gridOpacity": {"condition": {"test": "datum.value == 0 || datum.value == 60", "value": 0}, "value": 1}}
            }
          }
        },
        {
          "data": {
            "format": {"parse": {"t0": "date:'%d.%m %H:%M'", "t1": "date:'%d.%m %H:%M'"}},
            "values": [{"t0": "09.04 10:00", "t1": "12.05 08:00", "grense": 50}, {"t0": "09.04 10:00", "t1": "12.05 08:00", "grense": 30}]
          },
          "mark": {"type": "rule", "color": "#000000", "strokeWidth": 4, "strokeDash": [16, 17.5]},
          "encoding": {
            "x": {
              "field": "t0", "type": "temporal",
              "scale": {"domain": [{"year": 1900, "month": 4, "date": 9}, {"year": 1900, "month": 5, "date": 13}], "nice": false},
              "axis": {"orient": "top", "labels": false, "grid": false, "title": null,
                "values": [{"year":1900,"month":4,"date":9},{"year":1900,"month":4,"date":12},{"year":1900,"month":4,"date":15},{"year":1900,"month":4,"date":18},{"year":1900,"month":4,"date":21},{"year":1900,"month":4,"date":24},{"year":1900,"month":4,"date":27},{"year":1900,"month":4,"date":30},{"year":1900,"month":5,"date":3},{"year":1900,"month":5,"date":6},{"year":1900,"month":5,"date":9},{"year":1900,"month":5,"date":12}]}
            },
            "x2": {"field": "t1"},
            "y": {"field": "grense", "type": "quantitative", "axis": {"orient": "right", "labels": false, "grid": false, "title": null, "values": [0, 10, 20, 30, 40, 50, 60]}}
          }
        }
      ],
      "resolve": {"axis": {"x": "independent", "y": "independent"}}
    },
    {
      "title": "Bunn (77m)",
      "width": 1200,
      "height": 283,
      "data": {
        "format": {"parse": {"t": "date:'%d.%m %H:%M'"}},
        "values": [
          {"t":"09.04 10:00","d":78.11},{"t":"09.04 16:05","d":76.24},{"t":"09.04 22:05","d":78.12},
          {"t":"10.04 04:05","d":76.49},{"t":"10.04 10:05","d":78.40},{"t":"10.04 16:34","d":76.34},{"t":"10.04 22:34","d":78.34},
          {"t":"11.04 04:48","d":76.42},{"t":"11.04 10:48","d":78.40},{"t":"11.04 17:02","d":76.24},{"t":"11.04 23:02","d":78.34},
          {"t":"12.04 05:17","d":76.33},{"t":"12.04 11:31","d":78.38},{"t":"12.04 17:31","d":76.22},{"t":"12.04 23:46","d":78.38},
          {"t":"13.04 05:46","d":76.33},{"t":"13.04 12:00","d":78.42},{"t":"13.04 18:00","d":76.29},
          {"t":"14.04 00:14","d":78.43},{"t":"14.04 06:14","d":76.44},{"t":"14.04 12:29","d":78.44},{"t":"14.04 18:29","d":76.41},
          {"t":"15.04 00:43","d":78.40},{"t":"15.04 06:58","d":76.48},{"t":"15.04 12:58","d":78.35},{"t":"15.04 19:12","d":76.49},
          {"t":"16.04 01:12","d":78.35},{"t":"16.04 07:26","d":76.59},{"t":"16.04 13:12","d":78.24},{"t":"16.04 19:26","d":76.59},
          {"t":"17.04 01:41","d":78.24},{"t":"17.04 07:41","d":76.64},{"t":"17.04 13:41","d":78.10},{"t":"17.04 19:55","d":76.72},
          {"t":"18.04 02:10","d":78.15},{"t":"18.04 08:24","d":76.80},{"t":"18.04 14:24","d":77.99},{"t":"18.04 20:38","d":76.91},
          {"t":"19.04 02:38","d":78.08},{"t":"19.04 09:20","d":76.91},{"t":"19.04 15:07","d":77.86},{"t":"19.04 21:50","d":76.97},
          {"t":"20.04 03:22","d":77.89},{"t":"20.04 10:20","d":76.96},{"t":"20.04 16:48","d":77.81},{"t":"20.04 23:17","d":77.08},
          {"t":"21.04 05:17","d":77.80},{"t":"21.04 12:14","d":76.87},{"t":"21.04 18:14","d":77.70},
          {"t":"22.04 00:29","d":76.99},{"t":"22.04 06:43","d":77.92},{"t":"22.04 13:12","d":76.79},{"t":"22.04 19:26","d":77.88},
          {"t":"23.04 01:41","d":76.84},{"t":"23.04 07:55","d":77.97},{"t":"23.04 13:55","d":76.54},{"t":"23.04 20:24","d":78.05},
          {"t":"24.04 02:24","d":76.64},{"t":"24.04 08:38","d":78.17},{"t":"24.04 14:53","d":76.33},{"t":"24.04 20:38","d":78.25},
          {"t":"25.04 03:07","d":76.45},{"t":"25.04 09:07","d":78.36},{"t":"25.04 15:36","d":76.16},{"t":"25.04 21:36","d":78.47},
          {"t":"26.04 04:05","d":76.28},{"t":"26.04 09:50","d":78.51},{"t":"26.04 16:34","d":75.95},{"t":"26.04 22:34","d":78.57},
          {"t":"27.04 04:48","d":76.10},{"t":"27.04 10:48","d":78.64},{"t":"27.04 17:17","d":75.85},{"t":"27.04 23:17","d":78.61},
          {"t":"28.04 05:31","d":75.98},{"t":"28.04 11:31","d":78.63},{"t":"28.04 18:00","d":75.86},
          {"t":"29.04 00:00","d":78.66},{"t":"29.04 06:14","d":76.02},{"t":"29.04 12:14","d":78.61},{"t":"29.04 18:43","d":76.00},
          {"t":"30.04 00:43","d":78.58},{"t":"30.04 06:58","d":76.09},{"t":"30.04 12:58","d":78.50},{"t":"30.04 19:12","d":76.20},
          {"t":"01.05 01:26","d":78.47},{"t":"01.05 07:41","d":76.22},{"t":"01.05 13:55","d":78.29},{"t":"01.05 20:10","d":76.40},
          {"t":"02.05 02:10","d":78.31},{"t":"02.05 08:38","d":76.40},{"t":"02.05 14:38","d":78.10},{"t":"02.05 21:07","d":76.65},
          {"t":"03.05 03:07","d":78.13},{"t":"03.05 09:45","d":76.53},{"t":"03.05 16:05","d":77.85},{"t":"03.05 22:19","d":76.80},
          {"t":"04.05 04:19","d":77.96},{"t":"04.05 11:02","d":76.57},{"t":"04.05 17:17","d":77.70},{"t":"04.05 23:31","d":76.82},
          {"t":"05.05 05:31","d":77.83},{"t":"05.05 12:14","d":76.57},{"t":"05.05 18:43","d":77.72},
          {"t":"06.05 00:43","d":76.80},{"t":"06.05 06:58","d":77.89},{"t":"06.05 13:26","d":76.51},{"t":"06.05 19:41","d":77.81},
          {"t":"07.05 01:55","d":76.66},{"t":"07.05 07:55","d":77.93},{"t":"07.05 14:24","d":76.44},{"t":"07.05 20:10","d":77.96},
          {"t":"08.05 02:38","d":76.62},{"t":"08.05 08:38","d":78.11},{"t":"08.05 15:07","d":76.43},{"t":"08.05 21:07","d":78.12},
          {"t":"09.05 03:22","d":76.49},{"t":"09.05 09:22","d":78.09},{"t":"09.05 15:50","d":76.27},{"t":"09.05 21:50","d":78.10},
          {"t":"10.05 04:05","d":76.37},{"t":"10.05 10:05","d":78.16},{"t":"10.05 16:19","d":76.24},{"t":"10.05 22:19","d":78.18},
          {"t":"11.05 04:48","d":76.33},{"t":"11.05 10:34","d":78.23},{"t":"11.05 17:02","d":76.35},{"t":"11.05 22:48","d":78.36},
          {"t":"12.05 05:17","d":76.38},{"t":"12.05 08:00","d":77.08}
        ]
      },
      "layer": [
        {
          "mark": {"type": "line", "color": "#009933", "strokeWidth": 1.3, "interpolate": "monotone"},
          "encoding": {
            "x": {
              "field": "t", "type": "temporal", "title": "Dato",
              "scale": {"domain": [{"year": 1900, "month": 4, "date": 9}, {"year": 1900, "month": 5, "date": 13}], "nice": false},
              "axis": {
                "format": "%d.%m",
                "values": [{"year":1900,"month":4,"date":9},{"year":1900,"month":4,"date":12},{"year":1900,"month":4,"date":15},{"year":1900,"month":4,"date":18},{"year":1900,"month":4,"date":21},{"year":1900,"month":4,"date":24},{"year":1900,"month":4,"date":27},{"year":1900,"month":4,"date":30},{"year":1900,"month":5,"date":3},{"year":1900,"month":5,"date":6},{"year":1900,"month":5,"date":9},{"year":1900,"month":5,"date":12}],
                "gridOpacity": {"condition": {"test": "datum.value < datetime(1900, 3, 9, 12)", "value": 0}, "value": 1}
              }
            },
            "y": {
              "field": "d", "type": "quantitative", "title": "Dybde (m)",
              "scale": {"domain": [75, 79], "reverse": true, "nice": false, "zero": false},
              "axis": {"values": [75, 76, 77, 78, 79], "gridOpacity": {"condition": {"test": "datum.value == 75 || datum.value == 79", "value": 0}, "value": 1}}
            }
          }
        },
        {
          "mark": {"type": "line", "opacity": 0},
          "encoding": {
            "x": {
              "field": "t", "type": "temporal",
              "axis": {"orient": "top", "labels": false, "grid": false, "title": null,
                "values": [{"year":1900,"month":4,"date":9},{"year":1900,"month":4,"date":12},{"year":1900,"month":4,"date":15},{"year":1900,"month":4,"date":18},{"year":1900,"month":4,"date":21},{"year":1900,"month":4,"date":24},{"year":1900,"month":4,"date":27},{"year":1900,"month":4,"date":30},{"year":1900,"month":5,"date":3},{"year":1900,"month":5,"date":6},{"year":1900,"month":5,"date":9},{"year":1900,"month":5,"date":12}]}
            },
            "y": {"field": "d", "type": "quantitative", "axis": {"orient": "right", "labels": false, "grid": false, "title": null, "values": [75, 76, 77, 78, 79]}}
          }
        }
      ],
      "resolve": {"axis": {"x": "independent", "y": "independent"}}
    },
    {
      "title": "Bunn (77m)",
      "width": 1200,
      "height": 283,
      "data": {
        "format": {"parse": {"t": "date:'%d.%m %H:%M'"}},
        "values": [{"t": "09.04 10:00", "ping": 150}, {"t": "12.05 08:00", "ping": 150}]
      },
      "layer": [
        {
          "mark": {"type": "line", "color": "#009933", "strokeWidth": 1.3},
          "encoding": {
            "x": {
              "field": "t", "type": "temporal", "title": "Dato",
              "scale": {"domain": [{"year": 1900, "month": 4, "date": 9}, {"year": 1900, "month": 5, "date": 13}], "nice": false},
              "axis": {
                "format": "%d.%m",
                "values": [{"year":1900,"month":4,"date":9},{"year":1900,"month":4,"date":12},{"year":1900,"month":4,"date":15},{"year":1900,"month":4,"date":18},{"year":1900,"month":4,"date":21},{"year":1900,"month":4,"date":24},{"year":1900,"month":4,"date":27},{"year":1900,"month":4,"date":30},{"year":1900,"month":5,"date":3},{"year":1900,"month":5,"date":6},{"year":1900,"month":5,"date":9},{"year":1900,"month":5,"date":12}],
                "gridOpacity": {"condition": {"test": "datum.value < datetime(1900, 3, 9, 12)", "value": 0}, "value": 1}
              }
            },
            "y": {
              "field": "ping", "type": "quantitative", "title": "Antall ping",
              "scale": {"domain": [140, 160], "nice": false, "zero": false},
              "axis": {"values": [140, 160], "grid": false}
            }
          }
        },
        {
          "mark": {"type": "line", "opacity": 0},
          "encoding": {
            "x": {
              "field": "t", "type": "temporal",
              "axis": {"orient": "top", "labels": false, "grid": false, "title": null,
                "values": [{"year":1900,"month":4,"date":9},{"year":1900,"month":4,"date":12},{"year":1900,"month":4,"date":15},{"year":1900,"month":4,"date":18},{"year":1900,"month":4,"date":21},{"year":1900,"month":4,"date":24},{"year":1900,"month":4,"date":27},{"year":1900,"month":4,"date":30},{"year":1900,"month":5,"date":3},{"year":1900,"month":5,"date":6},{"year":1900,"month":5,"date":9},{"year":1900,"month":5,"date":12}]}
            },
            "y": {"field": "ping", "type": "quantitative", "axis": {"orient": "right", "labels": false, "grid": false, "title": null, "values": [140, 160]}}
          }
        }
      ],
      "resolve": {"axis": {"x": "independent", "y": "independent"}}
    }
  ]
}
